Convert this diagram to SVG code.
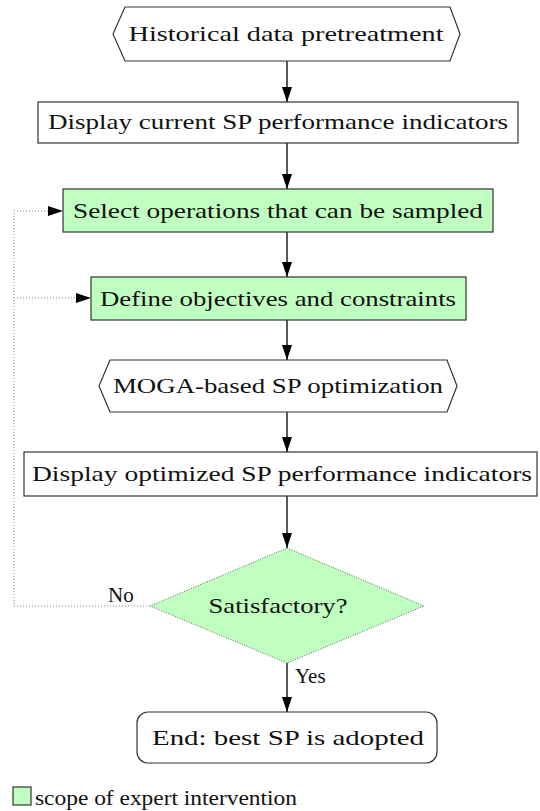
<svg xmlns="http://www.w3.org/2000/svg" width="540" height="811" viewBox="0 0 540 811">
<style>
.t{font-family:"Liberation Serif",Tinos,"Times New Roman",serif;font-size:21px;fill:#111;text-anchor:middle}
.tl{font-family:"Liberation Serif",Tinos,"Times New Roman",serif;font-size:21px;fill:#111}
.n{fill:#fff;stroke:#333;stroke-width:1.2}
.g{fill:#bfffbf;stroke:#333;stroke-width:1.2}
.e{stroke:#000;stroke-width:1.3;fill:none}
.d{stroke:#888;stroke-width:1;fill:none;stroke-dasharray:1 2}
</style>
<defs>
<marker id="ah" markerWidth="15" markerHeight="10" refX="15" refY="5" orient="auto" markerUnits="userSpaceOnUse">
<path d="M0,0 L15,5 L0,10 Z" fill="#000"/>
</marker>
</defs>
<rect width="540" height="811" fill="#fff"/>
<g id="connectors">
<line class="e" x1="287" y1="61" x2="287" y2="102" marker-end="url(#ah)"/>
<line class="e" x1="287" y1="143" x2="287" y2="189" marker-end="url(#ah)"/>
<line class="e" x1="287" y1="232" x2="287" y2="277" marker-end="url(#ah)"/>
<line class="e" x1="287" y1="320" x2="287" y2="360" marker-end="url(#ah)"/>
<line class="e" x1="287" y1="412" x2="287" y2="452" marker-end="url(#ah)"/>
<line class="e" x1="287" y1="496" x2="287" y2="548" marker-end="url(#ah)"/>
<line class="e" x1="287" y1="663" x2="287" y2="712" marker-end="url(#ah)"/>
<path class="d" d="M150,606 H14 V211 H50"/>
<path class="d" d="M14,298 H78"/>
<path d="M48,206 L63,211 L48,216 Z" fill="#000"/>
<path d="M76,293 L91,298 L76,303 Z" fill="#000"/>
<text class="tl" x="108" y="602">No</text>
<text class="tl" x="295" y="683">Yes</text>
</g>
<g id="n1">
<polygon class="n" points="113,34 125,7 450,7 460,34 450,61 125,61"/>
<text class="t" x="286" y="41" textLength="315" lengthAdjust="spacingAndGlyphs">Historical data pretreatment</text>
</g>
<g id="n2">
<rect class="n" x="38" y="102" width="480" height="41"/>
<text class="t" x="278" y="129" textLength="460" lengthAdjust="spacingAndGlyphs">Display current SP performance indicators</text>
</g>
<g id="n3">
<rect class="g" x="63" y="189" width="430" height="43"/>
<text class="t" x="278" y="218" textLength="410" lengthAdjust="spacingAndGlyphs">Select operations that can be sampled</text>
</g>
<g id="n4">
<rect class="g" x="91" y="277" width="375" height="43"/>
<text class="t" x="278" y="306" textLength="356" lengthAdjust="spacingAndGlyphs">Define objectives and constraints</text>
</g>
<g id="n5">
<polygon class="n" points="99,386 110,360 447,360 457,386 447,412 110,412"/>
<text class="t" x="278" y="393" textLength="330" lengthAdjust="spacingAndGlyphs">MOGA-based SP optimization</text>
</g>
<g id="n6">
<rect class="n" x="24" y="452" width="513" height="44"/>
<text class="t" x="282" y="481" textLength="500" lengthAdjust="spacingAndGlyphs">Display optimized SP performance indicators</text>
</g>
<g id="n7">
<polygon points="287,548 424,606 287,663 150,606" fill="#bfffbf" stroke="#555" stroke-width="0.9" stroke-dasharray="1 1.5"/>
<text class="t" x="278" y="613" textLength="139" lengthAdjust="spacingAndGlyphs">Satisfactory?</text>
</g>
<g id="n8">
<rect class="n" x="137" y="712" width="300" height="51" rx="11"/>
<text class="t" x="288" y="745" textLength="272" lengthAdjust="spacingAndGlyphs">End: best SP is adopted</text>
</g>
<g id="legend">
<rect class="g" x="13" y="787" width="18" height="18"/>
<text class="tl" x="35" y="805" textLength="262" lengthAdjust="spacingAndGlyphs">scope of expert intervention</text>
</g>
</svg>
